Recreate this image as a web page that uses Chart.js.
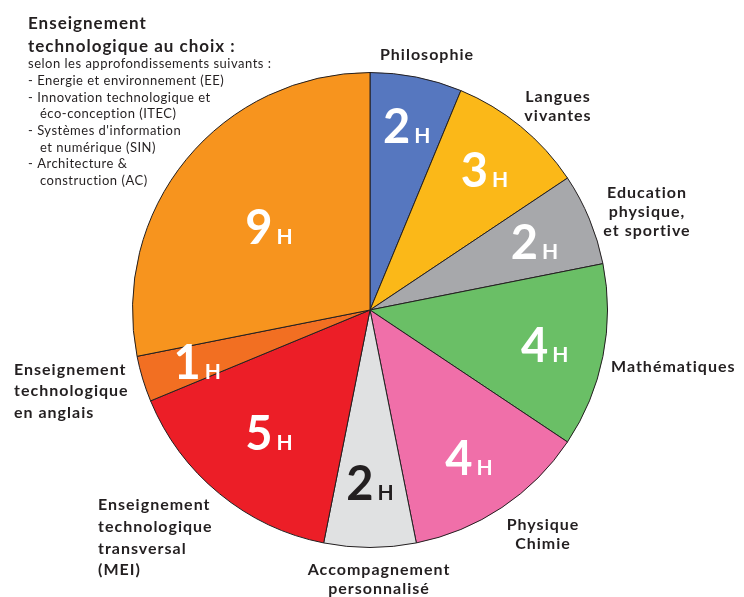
<!DOCTYPE html>
<html>
<head>
<meta charset="utf-8">
<script src="https://cdn.jsdelivr.net/npm/chart.js@4"></script>
<style>
  html, body { margin: 0; padding: 0; background: #fff; }
  #wrap { position: relative; width: 744px; height: 597px; }
</style>
</head>
<body>
<div id="wrap"><canvas id="pie"></canvas></div>
<script>
// ============================================================
// Data
// ============================================================

const categories = [
  'Philosophie',
  'Langues vivantes',
  'Education physique, et sportive',
  'Mathématiques',
  'Physique Chimie',
  'Accompagnement personnalisé',
  'Enseignement technologique transversal (MEI)',
  'Enseignement technologique en anglais',
  'Enseignement technologique au choix'
];
const hours = [2, 3, 2, 4, 4, 2, 5, 1, 9];
const unit = 'H';

const sliceColors = ['#5677bf', '#fbb818', '#a7a8ab', '#6abf66', '#f06fa9', '#e0e1e2', '#ec1e27', '#f26f22', '#f7941e'];
const valueColors = ['#fff', '#fff', '#fff', '#fff', '#fff', '#231f20', '#fff', '#fff', '#fff'];
// how far from the centre the value sits (fraction of radius)
const valueRadius = [0.79, 0.76, 0.75, 0.75, 0.75, 0.73, 0.67, 0.76, 0.55];

// outer labels: lines, anchor and alignment
const outerLabels = [
  { lines: ['Philosophie'], x: 427, y: 55, align: 'center' },
  { lines: ['Langues', 'vivantes'], x: 558, y: 97, align: 'center' },
  { lines: ['Education', 'physique,', 'et sportive'], x: 647, y: 193, align: 'center' },
  { lines: ['Mathématiques'], x: 611, y: 367, align: 'left' },
  { lines: ['Physique', 'Chimie'], x: 543, y: 525, align: 'center' },
  { lines: ['Accompagnement', 'personnalisé'], x: 379, y: 570, align: 'center' },
  { lines: ['Enseignement', 'technologique', 'transversal', '(MEI)'], x: 98, y: 505, align: 'left', lh: 21.7 },
  { lines: ['Enseignement', 'technologique', 'en anglais'], x: 14, y: 370, align: 'left', lh: 21.3 }
];

const choixTitle = ['Enseignement', 'technologique au choix :'];
const choixDetails = [
  ['selon les approfondissements suivants :', 0],
  ['- Energie et environnement (EE)', 0],
  ['- Innovation technologique et', 0],
  ['éco-conception (ITEC)', 1],
  ['- Systèmes d\'information', 0],
  ['et numérique (SIN)', 1],
  ['- Architecture &', 0],
  ['construction (AC)', 1]
];

const TEXT = '#231f20';
const FONT = "Lato, 'Open Sans', sans-serif";

// ============================================================
// Labels plugin
// ============================================================

const labelsPlugin = {
  id: 'hourLabels',
  afterDatasetsDraw(chart) {
    const ctx = chart.ctx;
    const meta = chart.getDatasetMeta(0);
    ctx.save();
    ctx.textBaseline = 'alphabetic';

    // values inside slices
    meta.data.forEach((arc, i) => {
      const p = arc.getProps(['x', 'y', 'startAngle', 'endAngle', 'outerRadius'], true);
      const mid = (p.startAngle + p.endAngle) / 2;
      const r = p.outerRadius * valueRadius[i];
      const cx = p.x + Math.cos(mid) * r;
      const cy = p.y + Math.sin(mid) * r;

      const big = `bold 47px ${FONT}`;
      const small = `bold 21px ${FONT}`;
      ctx.font = big;
      const wDigit = ctx.measureText(String(hours[i])).width;
      ctx.font = small;
      const wUnit = ctx.measureText(unit).width;
      const gap = 4;
      const left = cx - (wDigit + gap + wUnit) / 2;
      const base = cy + 17;

      ctx.fillStyle = valueColors[i];
      ctx.textAlign = 'left';
      ctx.font = big;
      ctx.fillText(String(hours[i]), left, base);
      ctx.font = small;
      ctx.fillText(unit, left + wDigit + gap, base);
    });

    // labels around the pie
    ctx.fillStyle = TEXT;
    ctx.textBaseline = 'middle';
    ctx.font = `bold 16px ${FONT}`;
    ctx.letterSpacing = '1px';
    outerLabels.forEach(l => {
      ctx.textAlign = l.align;
      const lh = l.lh || 19;
      l.lines.forEach((t, k) => ctx.fillText(t, l.x, l.y + k * lh));
    });

    // top-left block
    ctx.textAlign = 'left';
    ctx.font = `bold 17px ${FONT}`;
    choixTitle.forEach((t, k) => ctx.fillText(t, 28, 24 + k * 23));
    ctx.font = `13px ${FONT}`;
    ctx.letterSpacing = '0.5px';
    choixDetails.forEach(([t, indent], k) => {
      ctx.fillText(t, indent ? 40 : 28, 64 + k * 16.7);
    });

    ctx.restore();
  }
};

// ============================================================
// Chart
// ============================================================

new Chart(document.getElementById('pie'), {
  type: 'pie',
  data: {
    labels: categories,
    datasets: [{
      data: hours,
      backgroundColor: sliceColors,
      borderColor: TEXT,
      borderWidth: 1
    }]
  },
  options: {
    responsive: true,
    maintainAspectRatio: false,
    animation: false,
    layout: { padding: { top: 72, bottom: 49, left: 132, right: 136 } },
    plugins: {
      legend: { display: false },
      tooltip: { enabled: false }
    }
  },
  plugins: [labelsPlugin]
});
</script>
</body>
</html>
